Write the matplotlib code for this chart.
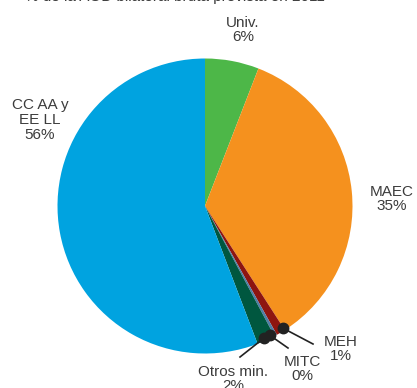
import numpy as np
import matplotlib
matplotlib.use("Agg")
import matplotlib.pyplot as plt

# datos (% de la AOD bilateral bruta)
labels = ["Univ.", "MAEC", "MEH", "MITC", "Otros min.", "CC AA y\nEE LL"]
values = [5.9, 35.0, 1.0, 0.3, 2.0, 55.8]
pct_text = ["6%", "35%", "1%", "0%", "2%", "56%"]
colors = ["#4db748", "#f5911e", "#8e1510", "#4f7da8", "#00573f", "#00a3e0"]

W, H = 417, 388
plt.rcParams['font.family'] = ['Liberation Sans', 'DejaVu Sans']

fig = plt.figure(figsize=(W / 100, H / 100), dpi=100)
ax = fig.add_axes([0, 0, 1, 1])

cx, cy, r = 205, H - 206, 147.5
wedges, _ = ax.pie(values, colors=colors, startangle=90, counterclock=False,
                   center=(cx, cy), radius=r, frame=True)
ax.set_xlim(0, W)
ax.set_ylim(0, H)
ax.set_aspect('equal')
ax.axis('off')

txt = dict(color='#3c3c3c', fontsize=11, ha='center', va='center', linespacing=1.05)

# título (cortado arriba)
ax.text(25, H - 1.5, "% de la AOD bilateral bruta prevista en 2011", color='#3c3c3c',
        fontsize=11, ha='left', va='baseline')

# etiquetas grandes
ax.text(243, H - 30, labels[0] + "\n" + pct_text[0], **txt)
ax.text(392, H - 199, labels[1] + "\n" + pct_text[1], **txt)
ax.text(40, H - 120, labels[5] + "\n" + pct_text[5], **txt)

# etiquetas pequeñas con línea y punto
small = {2: (313, 344, 341, 349), 3: (288, 348, 302, 369), 4: (240, 357, 233, 379)}
shift = {2: 1.5, 3: -2.0, 4: -0.3}
for i, (lx, ly, tx, ty) in small.items():
    w = wedges[i]
    ang = np.deg2rad((w.theta1 + w.theta2) / 2 + shift[i])
    px, py = cx + 0.98 * r * np.cos(ang), cy + 0.98 * r * np.sin(ang)
    ax.plot([px, lx], [py, H - ly], color='#222222', lw=1.2, zorder=4)
    ax.plot(px, py, 'o', color='#222222', ms=7.5, zorder=5)
    ax.text(tx, H - ty, labels[i] + "\n" + pct_text[i], **txt)

fig.savefig("out.png", dpi=100)
